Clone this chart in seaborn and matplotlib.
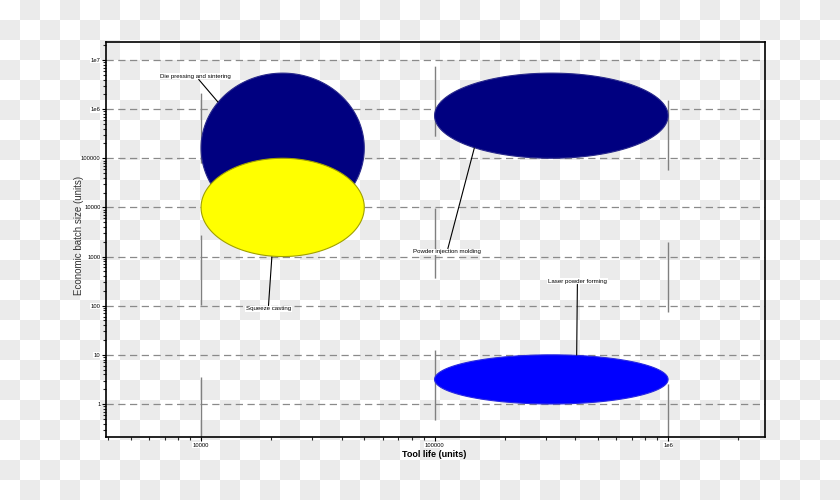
import numpy as np
import matplotlib
matplotlib.use("Agg")
import matplotlib.pyplot as plt
from matplotlib.ticker import FixedLocator, FixedFormatter, LogLocator, NullFormatter
import seaborn as sns

# process windows (tool life vs economic batch size)
processes = ["Die pressing and sintering", "Squeeze casting",
             "Powder injection molding", "Laser powder forming"]
tool_life_min = [1e4, 1e4, 1e5, 1e5]
tool_life_max = [5e4, 5e4, 1e6, 1e6]
batch_min = [4.8e3, 1e3, 1e5, 1]
batch_max = [5.4e6, 1e5, 5.4e6, 10]
fill_colors = ["#000080", "#ffff00", "#000080", "#0000ff"]
edge_colors = ["#2a2a8c", "#a0a000", "#2a2a8c", "#2a2ae0"]

# label text positions and where the leader lines touch the bubbles
label_x = [9.5e3, 1.94e4, 1.13e5, 4.09e5]
label_y = [4.7e6, 86, 1.24e3, 318]
leader_x = [1.18e4, 2.01e4, 1.48e5, 4.06e5]
leader_y = [1.4e6, 980, 1.62e5, 9.9]

y_ticks = [1, 10, 100, 1000, 10000, 100000, 1e6, 1e7]
y_tick_labels = ["1", "10", "100", "1000", "10000", "100000", "1e6", "1e7"]
x_ticks = [1e4, 1e5, 1e6]
x_tick_labels = ["10000", "100000", "1e6"]

sns.set_style("white")
narrow = ["Liberation Sans Narrow", "Liberation Sans", "DejaVu Sans"]
plt.rcParams["font.family"] = ["Liberation Sans", "DejaVu Sans"]

fig = plt.figure(figsize=(8.4, 5.0), dpi=100)

# transparent-image checkerboard behind everything
rows, cols = np.indices((500, 840))
board = np.where(((rows // 20) + (cols // 20)) % 2 == 1, 0.922, 1.0)
bg = fig.figimage(np.dstack([board] * 3), xo=0, yo=0, origin="upper")
bg.set_zorder(-10)

ax = fig.add_axes([0.1262, 0.126, 0.7845, 0.79])
ax.patch.set_alpha(0)
ax.set_xscale("log")
ax.set_yscale("log")
ax.set_xlim(3917, 2.6e6)
ax.set_ylim(0.213, 2.32e7)

# dashed horizontal grid
ax.set_axisbelow(True)
for yt in y_ticks:
    ax.axhline(yt, color="#8a8a8a", lw=0.9, linestyle=(0, (5.8, 3.6)), zorder=0.5)
# long-dashed vertical lines at the decades
for xt, off in zip(x_ticks, [7.2, 90, 12.2]):
    ax.axvline(xt, color="#808080", lw=1, linestyle=(off, (50.4, 51.8)), zorder=0.6)

# bubbles drawn as ellipses in log space
t = np.linspace(0, 2 * np.pi, 300)
for lo_x, hi_x, lo_y, hi_y, fc, ec in zip(tool_life_min, tool_life_max, batch_min,
                                          batch_max, fill_colors, edge_colors):
    cx = (np.log10(lo_x) + np.log10(hi_x)) / 2
    rx = (np.log10(hi_x) - np.log10(lo_x)) / 2
    cy = (np.log10(lo_y) + np.log10(hi_y)) / 2
    ry = (np.log10(hi_y) - np.log10(lo_y)) / 2
    ax.fill(10 ** (cx + rx * np.cos(t)), 10 ** (cy + ry * np.sin(t)),
            facecolor=fc, edgecolor=ec, lw=0.8, zorder=1)

for name, tx, ty, px, py in zip(processes, label_x, label_y, leader_x, leader_y):
    ax.annotate(name, xy=(px, py), xytext=(tx, ty), ha="center", va="center",
                fontsize=4.4, family=narrow, color="black",
                bbox=dict(facecolor="white", edgecolor="none", pad=0.6),
                arrowprops=dict(arrowstyle="-", color="black", lw=0.8,
                                shrinkA=0, shrinkB=0), zorder=3)

ax.xaxis.set_major_locator(FixedLocator(x_ticks))
ax.xaxis.set_major_formatter(FixedFormatter(x_tick_labels))
ax.yaxis.set_major_locator(FixedLocator(y_ticks))
ax.yaxis.set_major_formatter(FixedFormatter(y_tick_labels))
for axis in (ax.xaxis, ax.yaxis):
    axis.set_minor_locator(LogLocator(base=10, subs=np.arange(2, 10), numticks=100))
    axis.set_minor_formatter(NullFormatter())

ax.tick_params(which="major", direction="out", length=3, width=0.8, pad=1,
               labelsize=4.2, colors="black")
ax.tick_params(which="minor", direction="out", length=2, width=0.8)
ax.tick_params(axis="both", which="both", bottom=True, left=True)
for lbl in ax.get_xticklabels() + ax.get_yticklabels():
    lbl.set_family(narrow)
    lbl.set_bbox(dict(facecolor="white", edgecolor="none", pad=0.3))

for sp in ax.spines.values():
    sp.set_visible(True)
    sp.set_color("black")
    sp.set_linewidth(1.2)

ax.set_xlabel("Tool life (units)", fontsize=6.5, family=narrow, color="black",
              fontweight="bold")
ax.xaxis.set_label_coords(0.498, -0.032)
ax.set_ylabel("Economic batch size (units)", fontsize=7, color="#333333")
ax.yaxis.set_label_coords(-0.034, 0.51)

fig.savefig("out.png", dpi=100)
